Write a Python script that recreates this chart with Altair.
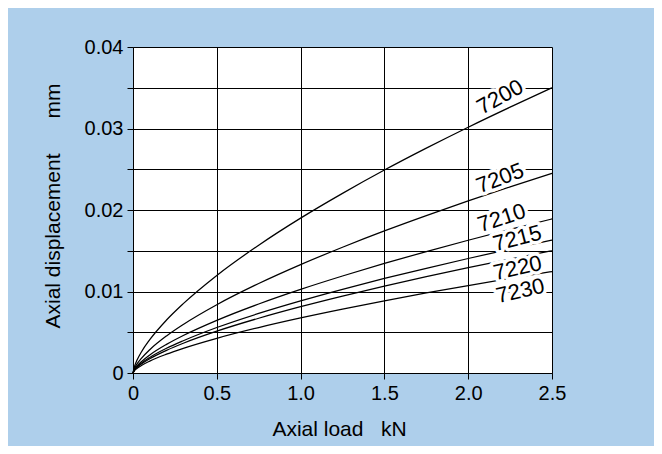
import altair as alt
import pandas as pd

# ---- data ----
load_kN = [0, 0.01, 0.025, 0.05, 0.1, 0.2, 0.3, 0.5, 0.75, 1.0, 1.25, 1.5, 1.75, 2.0, 2.25, 2.5]

disp_7200 = [0, 0.00088, 0.00162, 0.00258, 0.00409, 0.0065, 0.00851, 0.01197, 0.01568, 0.019, 0.02204, 0.0249, 0.02759, 0.03016, 0.03262, 0.035]
disp_7205 = [0, 0.00062, 0.00114, 0.0018, 0.00286, 0.00455, 0.00596, 0.00838, 0.01098, 0.0133, 0.01543, 0.01743, 0.01931, 0.02111, 0.02284, 0.0245]
disp_7210 = [0, 0.00048, 0.00088, 0.00139, 0.00221, 0.00351, 0.0046, 0.00646, 0.00847, 0.01026, 0.0119, 0.01344, 0.0149, 0.01629, 0.01762, 0.0189]
disp_7215 = [0, 0.00041, 0.00076, 0.0012, 0.00191, 0.00303, 0.00396, 0.00558, 0.00731, 0.00885, 0.01027, 0.0116, 0.01285, 0.01405, 0.0152, 0.0163]
disp_7220 = [0, 0.00038, 0.0007, 0.0011, 0.00175, 0.00278, 0.00365, 0.00513, 0.00672, 0.00814, 0.00944, 0.01067, 0.01182, 0.01292, 0.01398, 0.015]
disp_7230 = [0, 0.00031, 0.00058, 0.00092, 0.00146, 0.00231, 0.00303, 0.00426, 0.00558, 0.00676, 0.00784, 0.00886, 0.00982, 0.01073, 0.01161, 0.01245]

series_names = ["7200", "7205", "7210", "7215", "7220", "7230"]
series_values = [disp_7200, disp_7205, disp_7210, disp_7215, disp_7220, disp_7230]

# curve label annotations (name, position in data units, text angle)
label_names = ["7200", "7205", "7210", "7215", "7220", "7230"]
label_x = [2.19, 2.19, 2.20, 2.293, 2.295, 2.311]
label_y = [0.03387, 0.02389, 0.01902, 0.01652, 0.01288, 0.01006]
label_angle = [331, 339, 342, 345.5, 347.5, 347]

x_ticks = [0, 0.5, 1.0, 1.5, 2.0, 2.5]
y_ticks = [0, 0.005, 0.01, 0.015, 0.02, 0.025, 0.03, 0.035, 0.04]

# ---- build tables ----
rows = []
for name, vals in zip(series_names, series_values):
    for x, y in zip(load_kN, vals):
        rows.append({"series": name, "load": x, "disp": y})
df = pd.DataFrame(rows)

labels_df = pd.DataFrame({"name": label_names, "x": label_x, "y": label_y, "angle": label_angle})

FONT = "Liberation Sans"

x_scale = alt.Scale(domain=[0, 2.5], nice=False, zero=False)
y_scale = alt.Scale(domain=[0, 0.04], nice=False, zero=False)

x_axis = alt.Axis(
    values=x_ticks,
    labelExpr="datum.value == 0 ? '0' : format(datum.value, '.1f')",
    title="Axial load\u00a0\u00a0\u00a0kN",
    grid=True,
    tickSize=6,
    labelPadding=4,
    labelFlush=False,
    titleX=206,
    titleY=62,
    titleAlign="center",
    titleBaseline="alphabetic",
)
y_axis = alt.Axis(
    values=y_ticks,
    labelExpr="round(datum.value * 1000) % 10 == 0 ? (datum.value == 0 ? '0' : format(datum.value, '.2f')) : ''",
    title="Axial displacement\u00a0\u00a0\u00a0\u00a0\u00a0\u00a0mm",
    grid=True,
    tickSize=6,
    labelPadding=4,
    labelFlush=False,
    titleAngle=270,
    titleX=-74,
    titleY=158.5,
    titleAlign="center",
    titleBaseline="alphabetic",
)

lines = alt.Chart(df).mark_line(color="black", strokeWidth=1.25, interpolate="monotone").encode(
    x=alt.X("load:Q", scale=x_scale, axis=x_axis),
    y=alt.Y("disp:Q", scale=y_scale, axis=y_axis),
    detail="series:N",
)

halo = alt.Chart(labels_df).mark_text(
    font=FONT, fontSize=22, color="white", stroke="white", strokeWidth=7,
    strokeJoin="round", align="center", baseline="middle",
).encode(
    x=alt.X("x:Q", scale=x_scale),
    y=alt.Y("y:Q", scale=y_scale),
    text="name:N",
    angle=alt.Angle("angle:Q", scale=None),
)

texts = alt.Chart(labels_df).mark_text(
    font=FONT, fontSize=22, color="black", align="center", baseline="middle",
).encode(
    x=alt.X("x:Q", scale=x_scale),
    y=alt.Y("y:Q", scale=y_scale),
    text="name:N",
    angle=alt.Angle("angle:Q", scale=None),
)

chart = alt.layer(lines, halo, texts).properties(
    width=419,
    height=326,
    background="#aecfeb",
    autosize=alt.AutoSizeParams(type="none"),
    padding={"left": 125, "top": 39, "right": 102, "bottom": 73},
).configure_view(
    fill="white", stroke="transparent"
).configure_axis(
    domainColor="black",
    domainWidth=1,
    tickColor="black",
    tickWidth=1,
    gridColor="black",
    gridWidth=1,
    gridOpacity=1,
    labelFont=FONT,
    labelFontSize=20,
    labelColor="black",
    titleFont=FONT,
    titleFontSize=21,
    titleFontWeight="normal",
    titleColor="black",
)

chart.save("out.html", embed_options={"renderer": "svg", "actions": False})
